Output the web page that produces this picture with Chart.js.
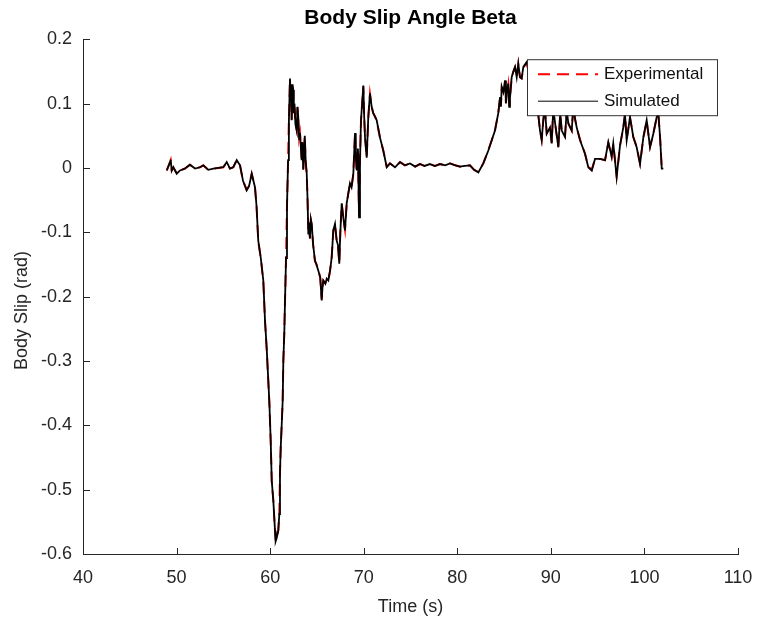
<!DOCTYPE html>
<html>
<head>
<meta charset="utf-8">
<script src="https://cdn.jsdelivr.net/npm/chart.js@4.4.1/dist/chart.umd.min.js"></script>
<style>
  html, body { margin: 0; padding: 0; background: #fff; }
  #wrap { width: 757px; height: 624px; }
</style>
</head>
<body>
<div id="wrap"><canvas id="c" width="757" height="624"></canvas></div>
<script>
/* Body slip angle: experimental vs simulated */

const TIME = [
  48.95, 49.30, 49.37, 49.48, 49.65, 50.01, 50.37, 50.90, 51.43, 51.97,
  52.50, 52.86, 53.39, 53.93, 54.46, 54.99, 55.36, 55.71, 56.06, 56.43,
  56.78, 57.10, 57.49, 57.75, 58.03, 58.38, 58.55, 58.73, 59.00, 59.27,
  59.45, 59.63, 59.91, 60.06, 60.17, 60.34, 60.52, 60.59, 60.70, 60.87,
  60.98, 61.05, 61.13, 61.24, 61.34, 61.41, 61.51, 61.59, 61.70, 61.80,
  61.92, 62.00, 62.12, 62.17, 62.22, 62.30, 62.35, 62.40, 62.47, 62.53,
  62.60, 62.70, 62.84, 62.92, 63.00, 63.10, 63.19, 63.37, 63.45, 63.54,
  63.70, 63.80, 63.91, 64.00, 64.08, 64.15, 64.25, 64.35, 64.44, 64.60,
  64.79, 64.95, 65.15, 65.35, 65.51, 65.60, 65.68, 65.90, 66.05, 66.22,
  66.40, 66.58, 66.75, 66.93, 67.11, 67.25, 67.39, 67.50, 67.65, 67.80,
  68.00, 68.18, 68.35, 68.53, 68.70, 68.89, 69.07, 69.15, 69.25, 69.38,
  69.50, 69.60, 69.71, 69.96, 70.05, 70.14, 70.32, 70.49, 70.67, 70.85,
  71.02, 71.20, 71.39, 71.74, 72.09, 72.46, 72.81, 73.34, 73.88, 74.40,
  74.95, 75.50, 76.02, 76.50, 77.08, 77.60, 78.15, 78.70, 79.22, 79.80,
  80.29, 80.80, 81.36, 81.80, 82.25, 82.78, 83.32, 83.68, 84.03, 84.38,
  84.57, 84.66, 84.75, 84.92, 85.10, 85.20, 85.28, 85.45, 85.55, 85.63,
  85.81, 86.00, 86.17, 86.35, 86.52, 86.70, 86.88, 87.06, 87.45, 87.88,
  88.20, 88.52, 88.84, 89.02, 89.19, 89.35, 89.56, 89.91, 90.09, 90.25,
  90.44, 90.80, 91.00, 91.16, 91.51, 91.70, 91.87, 92.23, 92.40, 92.58,
  92.76, 93.12, 93.65, 94.00, 94.37, 94.72, 95.25, 95.79, 96.14, 96.50,
  96.67, 96.85, 97.03, 97.39, 97.74, 97.92, 98.10, 98.46, 98.81, 99.17,
  99.53, 99.89, 100.24, 100.60, 100.95, 101.31, 101.49, 101.67, 101.85, 102.02
];

const SIMULATED = [
  -0.004, 0.009, 0.013, -0.004, 0.001, -0.009, -0.004, -0.001, 0.005, -0.001,
  0.001, 0.004, -0.003, -0.001, 0.000, 0.001, 0.009, -0.001, 0.001, 0.012,
  0.004, -0.020, -0.035, -0.028, -0.009, -0.030, -0.060, -0.113, -0.140, -0.175,
  -0.237, -0.280, -0.362, -0.424, -0.486, -0.517, -0.564, -0.580, -0.575, -0.564,
  -0.538, -0.475, -0.435, -0.398, -0.362, -0.300, -0.258, -0.206, -0.140, -0.060,
  0.012, 0.070, 0.139, 0.115, 0.130, 0.074, 0.105, 0.130, 0.121, 0.085,
  0.100, 0.068, 0.058, 0.095, 0.080, 0.045, 0.054, 0.012, 0.040, -0.003,
  0.050, 0.010, -0.009, -0.050, -0.102, -0.085, -0.110, -0.080, -0.087, -0.120,
  -0.144, -0.150, -0.160, -0.170, -0.206, -0.185, -0.175, -0.180, -0.172, -0.175,
  -0.160, -0.139, -0.097, -0.087, -0.113, -0.120, -0.149, -0.100, -0.055, -0.075,
  -0.097, -0.055, -0.040, -0.024, -0.030, -0.009, 0.054, 0.020, -0.004, 0.030,
  -0.077, 0.010, 0.074, 0.128, 0.080, 0.047, 0.016, 0.079, 0.116, 0.095,
  0.085, 0.080, 0.074, 0.047, 0.027, 0.001, 0.007, 0.001, 0.009, 0.004,
  0.007, 0.002, 0.006, 0.003, 0.006, 0.003, 0.006, 0.004, 0.007, 0.004,
  0.002, 0.003, 0.004, -0.003, -0.007, 0.007, 0.027, 0.043, 0.058, 0.085,
  0.110, 0.095, 0.126, 0.118, 0.136, 0.100, 0.115, 0.131, 0.095, 0.108,
  0.141, 0.150, 0.157, 0.141, 0.162, 0.141, 0.139, 0.157, 0.165, 0.120,
  0.150, 0.100, 0.058, 0.043, 0.074, 0.095, 0.053, 0.063, 0.038, 0.090,
  0.071, 0.032, 0.085, 0.058, 0.048, 0.090, 0.069, 0.058, 0.095, 0.077,
  0.063, 0.043, 0.022, 0.001, -0.004, 0.014, 0.014, 0.012, 0.040, 0.017,
  0.038, 0.012, -0.014, 0.035, 0.063, 0.084, 0.043, 0.079, 0.048, 0.032,
  0.006, 0.048, 0.074, 0.032, 0.053, 0.079, 0.084, 0.048, -0.001, -0.001
];

const EXPERIMENTAL = [
  -0.004, 0.009, 0.012, -0.004, 0.001, -0.008, -0.004, -0.001, 0.005, -0.001,
  0.001, 0.004, -0.003, -0.001, 0.000, 0.001, 0.008, -0.001, 0.001, 0.012,
  0.004, -0.020, -0.034, -0.028, -0.009, -0.030, -0.061, -0.114, -0.140, -0.176,
  -0.238, -0.281, -0.363, -0.425, -0.487, -0.517, -0.564, -0.579, -0.575, -0.563,
  -0.537, -0.474, -0.434, -0.397, -0.361, -0.299, -0.257, -0.205, -0.139, -0.059,
  0.013, 0.070, 0.138, 0.115, 0.129, 0.075, 0.105, 0.129, 0.120, 0.086,
  0.100, 0.069, 0.059, 0.094, 0.080, 0.046, 0.054, 0.013, 0.040, -0.002,
  0.049, 0.010, -0.010, -0.051, -0.101, -0.085, -0.109, -0.081, -0.088, -0.121,
  -0.145, -0.150, -0.159, -0.170, -0.204, -0.185, -0.175, -0.179, -0.172, -0.174,
  -0.160, -0.138, -0.098, -0.088, -0.113, -0.121, -0.148, -0.100, -0.056, -0.075,
  -0.096, -0.056, -0.040, -0.025, -0.030, -0.010, 0.053, 0.020, -0.003, 0.030,
  -0.075, 0.011, 0.073, 0.127, 0.080, 0.048, 0.017, 0.078, 0.115, 0.095,
  0.085, 0.080, 0.073, 0.047, 0.027, 0.002, 0.007, 0.001, 0.009, 0.004,
  0.007, 0.002, 0.006, 0.003, 0.006, 0.003, 0.006, 0.004, 0.007, 0.004,
  0.002, 0.003, 0.004, -0.003, -0.006, 0.007, 0.028, 0.043, 0.059, 0.085,
  0.109, 0.096, 0.125, 0.118, 0.135, 0.101, 0.115, 0.130, 0.096, 0.108,
  0.140, 0.150, 0.156, 0.141, 0.161, 0.141, 0.139, 0.156, 0.164, 0.121,
  0.149, 0.101, 0.059, 0.044, 0.073, 0.094, 0.054, 0.062, 0.039, 0.089,
  0.070, 0.033, 0.084, 0.058, 0.049, 0.089, 0.069, 0.058, 0.094, 0.076,
  0.063, 0.044, 0.022, 0.002, -0.003, 0.014, 0.014, 0.012, 0.039, 0.018,
  0.037, 0.013, -0.013, 0.034, 0.062, 0.083, 0.044, 0.078, 0.048, 0.033,
  0.007, 0.047, 0.073, 0.033, 0.053, 0.078, 0.083, 0.048, 0.000, -0.001
];

const X_TICKS = [40, 50, 60, 70, 80, 90, 100, 110];
const Y_TICKS = [-0.6, -0.5, -0.4, -0.3, -0.2, -0.1, 0, 0.1, 0.2];

const FONT = "'Liberation Sans', Arial, sans-serif";
const INK = '#262626';

// ticks pointing into the plot, like the original figure
const innerTicks = {
  id: 'innerTicks',
  afterDraw(chart) {
    const { ctx, chartArea: a, scales: { x, y } } = chart;
    ctx.save();
    ctx.strokeStyle = INK;
    ctx.lineWidth = 1;
    ctx.beginPath();
    X_TICKS.forEach(v => {
      const px = Math.round(x.getPixelForValue(v)) + 0.5;
      ctx.moveTo(px, a.bottom); ctx.lineTo(px, a.bottom - 6);
    });
    Y_TICKS.forEach(v => {
      const py = Math.round(y.getPixelForValue(v)) + 0.5;
      ctx.moveTo(a.left, py); ctx.lineTo(a.left + 7, py);
    });
    ctx.stroke();
    // y axis label, sitting a bit below the axis middle as in the original
    ctx.translate(22, (a.top + a.bottom) / 2 + 14);
    ctx.rotate(-Math.PI / 2);
    ctx.fillStyle = INK;
    ctx.font = `18px ${FONT}`;
    ctx.textAlign = 'center';
    ctx.textBaseline = 'middle';
    ctx.fillText('Body Slip (rad)', 0, 0);
    ctx.restore();
  }
};

// boxed legend sitting inside the plot (top right)
const boxLegend = {
  id: 'boxLegend',
  afterDatasetsDraw(chart) {
    const { ctx, chartArea: a } = chart;
    const bx = a.right - 211, by = a.top + 20, bw = 190, bh = 56;
    ctx.save();
    ctx.fillStyle = '#fff';
    ctx.fillRect(bx, by, bw, bh);
    ctx.strokeStyle = '#333';
    ctx.lineWidth = 1;
    ctx.strokeRect(bx + 0.5, by + 0.5, bw, bh);
    ctx.font = `17px ${FONT}`;
    ctx.textBaseline = 'middle';
    chart.data.datasets.forEach((ds, i) => {
      const ly = by + 15 + i * 27;
      ctx.beginPath();
      ctx.strokeStyle = ds.borderColor;
      ctx.lineWidth = i === 0 ? 2 : 1;
      ctx.setLineDash(ds.borderDash || []);
      ctx.moveTo(bx + 11, ly); ctx.lineTo(bx + 71, ly);
      ctx.stroke();
      ctx.setLineDash([]);
      ctx.fillStyle = '#111';
      ctx.fillText(ds.label, bx + 77, ly);
    });
    ctx.restore();
  }
};

new Chart(document.getElementById('c'), {
  type: 'line',
  data: {
    datasets: [
      {
        label: 'Experimental',
        data: TIME.map((t, i) => ({ x: t, y: EXPERIMENTAL[i] })),
        borderColor: '#ff0000', borderWidth: 2, borderDash: [12, 7],
        pointRadius: 0, tension: 0, order: 2
      },
      {
        label: 'Simulated',
        data: TIME.map((t, i) => ({ x: t, y: SIMULATED[i] })),
        borderColor: '#000000', borderWidth: 1.8,
        pointRadius: 0, tension: 0, order: 1
      }
    ]
  },
  options: {
    responsive: false, animation: false,
    layout: { padding: { left: 0, right: 19, top: 0, bottom: 0 } },
    plugins: {
      legend: { display: false },
      tooltip: { enabled: false },
      title: {
        display: true, text: 'Body Slip Angle Beta', fullSize: false,
        color: '#000', font: { family: FONT, size: 21, weight: 'bold' },
        padding: { top: 6, bottom: 8 }
      }
    },
    scales: {
      x: {
        type: 'linear', min: 40, max: 110,
        afterBuildTicks: s => { s.ticks = X_TICKS.map(v => ({ value: v })); },
        afterFit: s => { s.height = 70; s.paddingLeft = 0; s.paddingRight = 0; },
        grid: { drawOnChartArea: false, drawTicks: false },
        border: { display: true, color: INK, width: 1 },
        ticks: { color: INK, font: { family: FONT, size: 18 }, padding: 13, maxRotation: 0 },
        title: { display: true, text: 'Time (s)', color: INK, font: { family: FONT, size: 18 }, padding: { top: 0, bottom: 6 } }
      },
      y: {
        min: -0.6, max: 0.2,
        afterBuildTicks: s => { s.ticks = Y_TICKS.map(v => ({ value: v })); },
        afterFit: s => { s.width = 83; },
        grid: { drawOnChartArea: false, drawTicks: false },
        border: { display: true, color: INK, width: 1 },
        ticks: { color: INK, font: { family: FONT, size: 18 }, padding: 11, callback: v => String(Math.round(v * 10) / 10) },
        title: { display: false }
      }
    }
  },
  plugins: [innerTicks, boxLegend]
});
</script>
</body>
</html>
